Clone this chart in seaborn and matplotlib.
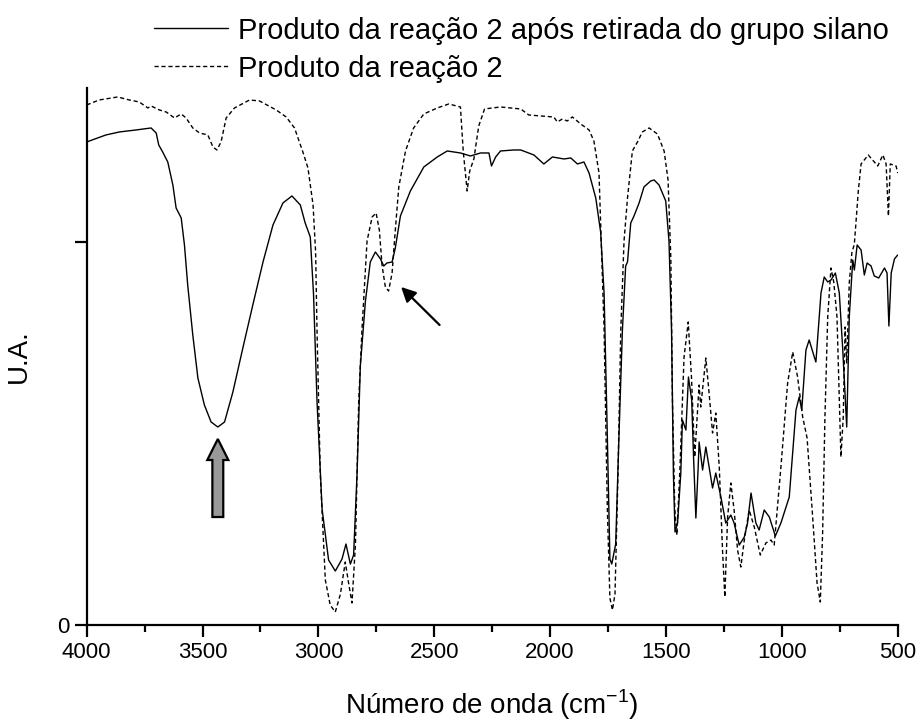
import matplotlib
matplotlib.use("Agg")
import matplotlib.pyplot as plt
from matplotlib.patches import FancyArrow
from matplotlib.lines import Line2D
import seaborn as sns
import pandas as pd

# ---- data (wavenumber in cm^-1, intensity in arbitrary units) ----
solid_wn = [4000, 3917, 3859, 3787, 3722, 3700, 3689, 3672, 3650, 3628,
            3614, 3592, 3578, 3564, 3542, 3520, 3492, 3463, 3434, 3405,
            3369, 3326, 3283, 3239, 3196, 3153, 3114, 3078, 3057, 3035,
            3021, 3006, 2984, 2956, 2927, 2898, 2881, 2862, 2848, 2833,
            2819, 2797, 2776, 2754, 2732, 2718, 2704, 2682, 2668, 2646,
            2603, 2545, 2487, 2444, 2387, 2344, 2300, 2264, 2253, 2235,
            2214, 2156, 2127, 2070, 2027, 1990, 1940, 1911, 1882, 1854,
            1832, 1803, 1782, 1767, 1753, 1742, 1734, 1717, 1703, 1688,
            1674, 1666, 1652, 1638, 1616, 1595, 1566, 1551, 1530, 1501,
            1487, 1476, 1468, 1461, 1450, 1436, 1429, 1414, 1403, 1389,
            1381, 1371, 1361, 1357, 1342, 1328, 1299, 1285, 1263, 1242,
            1220, 1206, 1184, 1162, 1148, 1133, 1112, 1098, 1076, 1054,
            1028, 1004, 968, 939, 925, 914, 896, 882, 860, 853,
            831, 817, 802, 788, 769, 752, 737, 720, 709, 694,
            687, 675, 658, 644, 632, 615, 601, 582, 557, 546,
            538, 528, 514, 500]
solid_y = [483, 490, 493, 495, 497, 492, 480, 473, 463, 440,
           417, 407, 380, 340, 290, 247, 220, 203, 198, 203,
           233, 277, 320, 363, 400, 422, 429, 420, 402, 388,
           331, 224, 116, 65, 54, 66, 81, 61, 70, 152,
           259, 324, 363, 373, 366, 359, 362, 363, 377, 409,
           434, 458, 468, 474, 472, 469, 472, 472, 459, 468,
           474, 475, 475, 470, 461, 468, 466, 467, 461, 463,
           452, 427, 393, 331, 188, 66, 61, 81, 188, 295,
           359, 363, 402, 409, 422, 438, 444, 445, 440, 424,
           384, 295, 152, 93, 102, 152, 205, 195, 248, 225,
           168, 107, 158, 183, 155, 178, 137, 152, 128, 102,
           110, 102, 80, 88, 102, 132, 102, 95, 115, 108,
           89, 102, 128, 215, 228, 215, 275, 285, 268, 263,
           332, 348, 343, 345, 352, 332, 275, 198, 308, 365,
           355, 380, 375, 350, 362, 359, 349, 347, 357, 352,
           299, 352, 366, 370]

dash_wn = [4000, 3946, 3866, 3816, 3773, 3736, 3722, 3686, 3657, 3621,
           3592, 3571, 3542, 3513, 3477, 3455, 3438, 3420, 3398, 3362,
           3297, 3254, 3182, 3139, 3103, 3067, 3045, 3023, 3012, 3006,
           2992, 2970, 2949, 2927, 2905, 2884, 2869, 2855, 2840, 2826,
           2812, 2790, 2768, 2751, 2737, 2725, 2711, 2697, 2682, 2668,
           2653, 2624, 2589, 2545, 2487, 2437, 2387, 2375, 2358, 2347,
           2329, 2308, 2283, 2214, 2127, 2092, 2041, 1984, 1969, 1947,
           1926, 1904, 1868, 1832, 1811, 1789, 1782, 1767, 1753, 1742,
           1731, 1720, 1707, 1695, 1681, 1666, 1645, 1623, 1602, 1573,
           1537, 1508, 1491, 1479, 1472, 1462, 1453, 1440, 1422, 1404,
           1390, 1376, 1357, 1350, 1328, 1314, 1299, 1285, 1270, 1256,
           1246, 1234, 1220, 1206, 1191, 1177, 1162, 1141, 1119, 1093,
           1069, 1047, 1033, 1004, 975, 953, 932, 910, 891, 867,
           848, 834, 824, 814, 802, 788, 776, 762, 752, 745,
           735, 727, 720, 709, 698, 687, 670, 658, 627, 586,
           564, 550, 540, 532, 507, 500]
dash_y = [520, 525, 528, 525, 523, 517, 519, 515, 513, 507,
          511, 507, 497, 492, 490, 478, 475, 483, 507, 517,
          525, 524, 515, 508, 497, 473, 457, 420, 373, 295,
          152, 45, 20, 13, 31, 63, 41, 22, 81, 224,
          295, 384, 408, 412, 395, 359, 338, 334, 352, 395,
          438, 474, 497, 511, 517, 521, 518, 474, 434, 454,
          466, 499, 516, 518, 516, 510, 509, 508, 503, 506,
          504, 508, 501, 495, 484, 452, 402, 295, 116, 27,
          15, 31, 152, 295, 384, 427, 474, 483, 493, 497,
          491, 474, 445, 366, 224, 116, 90, 155, 268, 303,
          248, 168, 240, 218, 267, 232, 192, 212, 158, 75,
          28, 108, 142, 115, 75, 58, 85, 115, 98, 70,
          82, 85, 80, 158, 242, 273, 248, 208, 187, 108,
          42, 23, 92, 208, 308, 357, 343, 308, 225, 168,
          208, 298, 262, 342, 372, 381, 434, 461, 470, 459,
          470, 461, 409, 461, 459, 452]

labels = ["Produto da reação 2 após retirada do grupo silano", "Produto da reação 2"]
x_ticks = [4000, 3500, 3000, 2500, 2000, 1500, 1000, 500]
x_minor = [3750, 3250, 2750, 2250, 1750, 1250, 750]

df_s = pd.DataFrame({"wn": solid_wn, "ua": solid_y})
df_d = pd.DataFrame({"wn": dash_wn, "ua": dash_y})

sns.set_theme(style="white")
plt.rcParams["font.family"] = ["Liberation Sans", "DejaVu Sans"]
plt.rcParams["mathtext.fontset"] = "custom"
plt.rcParams["mathtext.rm"] = "Liberation Sans"
plt.rcParams["text.color"] = "black"
plt.rcParams["axes.labelcolor"] = "black"
plt.rcParams["xtick.color"] = "black"
plt.rcParams["ytick.color"] = "black"

fig = plt.figure(figsize=(9.21, 7.24), dpi=100)
ax = fig.add_axes([0.0941, 0.1367, 0.8806, 0.7418])

sns.lineplot(data=df_s, x="wn", y="ua", ax=ax, color="black", lw=1.0,
             estimator=None, sort=False)
sns.lineplot(data=df_d, x="wn", y="ua", ax=ax, color="black", lw=1.0,
             estimator=None, sort=False, linestyle=(0, (3, 2)))

ax.set_xlim(4000, 500)
ax.set_ylim(0, 537)
ax.set_xticks(x_ticks)
ax.set_xticks(x_minor, minor=True)
ax.set_xticklabels([str(t) for t in x_ticks])
ax.set_yticks([0, 383])
ax.set_yticklabels(["0", ""])

for s in ["top", "right"]:
    ax.spines[s].set_visible(False)
for s in ["left", "bottom"]:
    ax.spines[s].set_linewidth(1.6)
    ax.spines[s].set_color("black")

ax.tick_params(axis="both", which="major", direction="out", length=8.5,
               width=1.6, labelsize=16, pad=4, colors="black", bottom=True, left=True)
ax.tick_params(axis="x", which="minor", direction="out", length=5,
               width=1.6, bottom=True)

ax.set_xlabel("Número de onda (cm$^{\\mathrm{-1}}$)", fontsize=20, labelpad=17, color="black")
ax.set_ylabel("U.A.", fontsize=20, labelpad=18, color="black")

# annotations
arrow = FancyArrow(3434, 108, 0, 78, width=47, head_width=91, head_length=21,
                   length_includes_head=True, facecolor="#999999",
                   edgecolor="black", linewidth=1.6)
ax.add_patch(arrow)
ax.annotate("", xy=(2643, 338), xytext=(2477, 300),
            arrowprops=dict(arrowstyle="-|>", color="black", lw=1.6,
                            mutation_scale=22, shrinkA=0, shrinkB=0))

handles = [Line2D([], [], color="black", lw=1.0),
           Line2D([], [], color="black", lw=1.0, linestyle=(0, (3, 2)))]
fig.legend(handles, labels, loc="upper left", bbox_to_anchor=(0.1672, 0.977),
           frameon=False, fontsize=21, handlelength=2.55, handletextpad=0.34,
           borderpad=0, borderaxespad=0, labelspacing=0.34, labelcolor="black")

fig.savefig("out.png", dpi=100)
